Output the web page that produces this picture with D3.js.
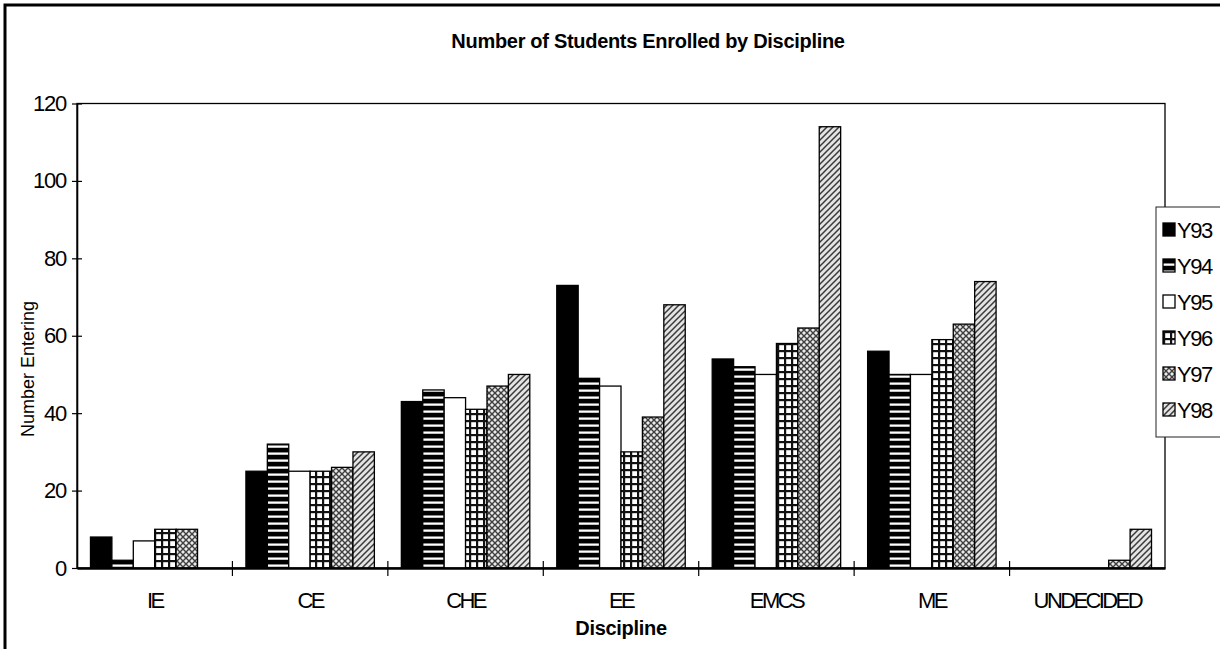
<!DOCTYPE html>
<html>
<head>
<meta charset="utf-8">
<script src="https://cdn.jsdelivr.net/npm/d3@7"></script>
<style>
  html, body { margin: 0; padding: 0; background: #fff; }
  svg { display: block; font-family: "Liberation Sans", Arial, sans-serif; }
</style>
</head>
<body>
<svg id="chart" width="1220" height="649"></svg>
<script>
// Enrolment counts per discipline, one array per entering year
const categories = ["IE", "CE", "CHE", "EE", "EMCS", "ME", "UNDECIDED"];
const seriesNames = ["Y93", "Y94", "Y95", "Y96", "Y97", "Y98"];
const Y93 = [8, 25, 43, 73, 54, 56, 0];
const Y94 = [2, 32, 46, 49, 52, 50, 0];
const Y95 = [7, 25, 44, 47, 50, 50, 0];
const Y96 = [10, 25, 41, 30, 58, 59, 0];
const Y97 = [10, 26, 47, 39, 62, 63, 2];
const Y98 = [0, 30, 50, 68, 114, 74, 10];
const yTicks = [0, 20, 40, 60, 80, 100, 120];

const seriesValues = [Y93, Y94, Y95, Y96, Y97, Y98];
const fills = ["#000", "url(#pHoriz)", "#fff", "url(#pGrid)", "url(#pCross)", "url(#pDiag)"];

const svg = d3.select("#chart");

// Hatch patterns used as bar fills
const defs = svg.append("defs");
const pH = defs.append("pattern").attr("id", "pHoriz").attr("patternUnits", "userSpaceOnUse")
  .attr("width", 8).attr("height", 7);
pH.append("rect").attr("width", 8).attr("height", 7).attr("fill", "#fff");
pH.append("rect").attr("y", 0).attr("width", 8).attr("height", 4).attr("fill", "#000");
pH.append("rect").attr("y", 4).attr("width", 8).attr("height", 1).attr("fill", "#888");
pH.append("rect").attr("y", 6.3).attr("width", 8).attr("height", 0.7).attr("fill", "#aaa");

const pG = defs.append("pattern").attr("id", "pGrid").attr("patternUnits", "userSpaceOnUse")
  .attr("width", 7).attr("height", 7);
pG.append("rect").attr("width", 7).attr("height", 7).attr("fill", "#fff");
pG.append("rect").attr("x", 0).attr("width", 2.2).attr("height", 7).attr("fill", "#111");
pG.append("rect").attr("y", 0).attr("width", 7).attr("height", 2.2).attr("fill", "#111");

const pC = defs.append("pattern").attr("id", "pCross").attr("patternUnits", "userSpaceOnUse")
  .attr("width", 6).attr("height", 6);
pC.append("rect").attr("width", 6).attr("height", 6).attr("fill", "#c0c0c0");
pC.append("path").attr("d", "M0,0L6,6M6,0L0,6").attr("stroke", "#3a3a3a").attr("stroke-width", 1.2);
pC.append("circle").attr("cx", 3).attr("cy", 0).attr("r", 0.9).attr("fill", "#fff");
pC.append("circle").attr("cx", 0).attr("cy", 3).attr("r", 0.9).attr("fill", "#fff");
pC.append("circle").attr("cx", 6).attr("cy", 3).attr("r", 0.9).attr("fill", "#fff");
pC.append("circle").attr("cx", 3).attr("cy", 6).attr("r", 0.9).attr("fill", "#fff");

const pD = defs.append("pattern").attr("id", "pDiag").attr("patternUnits", "userSpaceOnUse")
  .attr("width", 6).attr("height", 6);
pD.append("rect").attr("width", 6).attr("height", 6).attr("fill", "#e4e4e4");
pD.append("path").attr("d", "M-1,7L7,-1M-1,1L1,-1M5,7L7,5").attr("stroke", "#3a3a3a").attr("stroke-width", 1.5);

// Outer chart frame
svg.append("rect").attr("x", 5).attr("y", 5).attr("width", 1240).attr("height", 680)
  .attr("fill", "none").attr("stroke", "#000").attr("stroke-width", 3);

// Plot geometry
const plot = { left: 77, right: 1165, top: 103.5, bottom: 568 };

const x0 = d3.scaleBand().domain(categories).range([plot.left, plot.right]).padding(0);
const x1 = d3.scaleBand().domain(seriesNames).range([0, x0.bandwidth()])
  .paddingInner(0).paddingOuter(0.63);
const y = d3.scaleLinear().domain([0, 120]).range([plot.bottom, plot.top]);

// Plot-area frame
svg.append("rect").attr("x", plot.left).attr("y", plot.top)
  .attr("width", plot.right - plot.left).attr("height", plot.bottom - plot.top)
  .attr("fill", "#fff").attr("stroke", "#000").attr("stroke-width", 1.3);

// Bars
const rows = [];
seriesNames.forEach((s, si) => {
  categories.forEach((c, ci) => {
    rows.push({ series: s, si, cat: c, value: seriesValues[si][ci] });
  });
});

svg.append("g").selectAll("rect")
  .data(rows.filter(d => d.value > 0))
  .join("rect")
  .attr("x", d => x0(d.cat) + x1(d.series))
  .attr("y", d => y(d.value))
  .attr("width", x1.bandwidth())
  .attr("height", d => y(0) - y(d.value))
  .attr("fill", d => fills[d.si])
  .attr("stroke", "#000")
  .attr("stroke-width", 1.3);

// Y axis
const yAxis = d3.axisLeft(y).tickValues(yTicks).tickSize(0).tickPadding(11);
const gy = svg.append("g").attr("transform", `translate(${plot.left},0)`).call(yAxis);
gy.select(".domain").attr("stroke", "#000").attr("stroke-width", 1.6);
gy.selectAll("text").attr("font-size", 22).attr("letter-spacing", -1.2).attr("fill", "#000")
  .attr("font-family", "Liberation Sans, Arial, sans-serif");
gy.selectAll(".tick").append("line").attr("x1", -5).attr("x2", 5)
  .attr("stroke", "#000").attr("stroke-width", 1.2);

// X axis: category labels centred under each group, ticks crossing at group boundaries
const xAxis = d3.axisBottom(x0).tickSize(0).tickPadding(24);
const gx = svg.append("g").attr("transform", `translate(0,${plot.bottom})`).call(xAxis);
gx.select(".domain").attr("stroke", "#000").attr("stroke-width", 2.4);
gx.selectAll("text").attr("font-size", 22).attr("letter-spacing", -2.6).attr("fill", "#000")
  .attr("font-family", "Liberation Sans, Arial, sans-serif");
svg.append("g").selectAll("line")
  .data(categories.slice(1))
  .join("line")
  .attr("x1", d => x0(d)).attr("x2", d => x0(d))
  .attr("y1", plot.bottom - 7).attr("y2", plot.bottom + 8)
  .attr("stroke", "#000").attr("stroke-width", 1.2);

// Titles
svg.append("text").attr("x", 648).attr("y", 48).attr("text-anchor", "middle")
  .attr("font-size", 20).attr("font-weight", "bold").attr("letter-spacing", -0.3)
  .text("Number of Students Enrolled by Discipline");

svg.append("text").attr("x", 621).attr("y", 635).attr("text-anchor", "middle")
  .attr("font-size", 20).attr("font-weight", "bold").attr("letter-spacing", -0.3)
  .text("Discipline");

svg.append("text").attr("transform", "translate(34,369) rotate(-90)").attr("text-anchor", "middle")
  .attr("font-size", 18)
  .text("Number Entering");

// Legend
const legend = svg.append("g");
legend.append("rect").attr("x", 1156).attr("y", 207).attr("width", 80).attr("height", 230)
  .attr("fill", "#fff").attr("stroke", "#222").attr("stroke-width", 1);
const ly = d3.scalePoint().domain(seriesNames).range([230, 410]);
const li = legend.selectAll("g.item").data(seriesNames).join("g").attr("class", "item")
  .attr("transform", d => `translate(1163,${ly(d)})`);
li.append("rect").attr("x", 0).attr("y", -7).attr("width", 12).attr("height", 13)
  .attr("fill", (d, i) => fills[i]).attr("stroke", "#000").attr("stroke-width", 1.3);
li.append("text").attr("x", 14).attr("y", 8).attr("font-size", 22).attr("letter-spacing", -1.5)
  .text(d => d);
</script>
</body>
</html>
